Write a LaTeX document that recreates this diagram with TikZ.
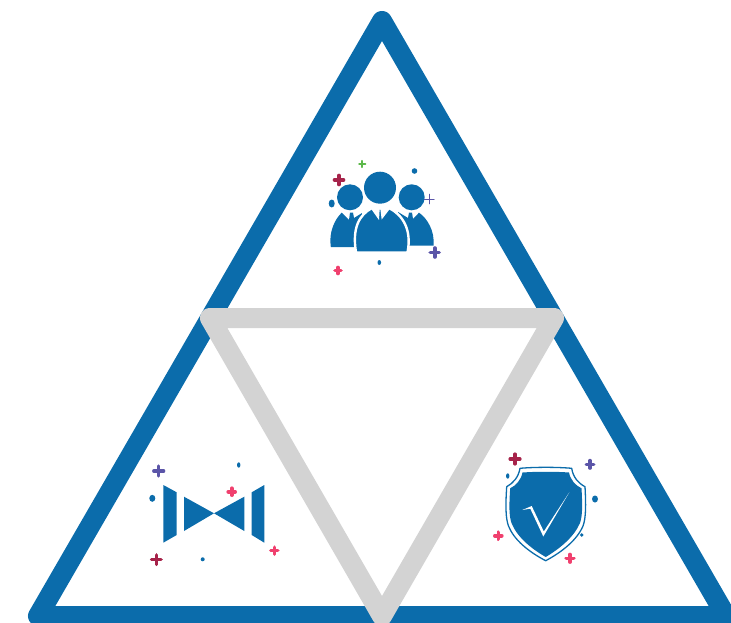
\documentclass[tikz,border=0pt]{standalone}
\definecolor{tblue}{HTML}{0B6CAB}
\definecolor{tgray}{HTML}{D3D3D3}
\definecolor{tcrim}{HTML}{A6234A}
\definecolor{tgreen}{HTML}{5CB84A}
\definecolor{tpurp}{HTML}{5B55A8}
\definecolor{tpink}{HTML}{F0406E}
\tikzset{
  outertri/.style={draw=tblue,line width=20pt,line join=round},
  innertri/.style={draw=tgray,line width=20pt,line join=round},
  cutbody/.style={fill=tblue,draw=white,line width=2.4pt},
  plusmark/.style={line cap=round,line width=#1},
  plusmark/.default=3pt
}
\newcommand{\plusat}[5]{\draw[plusmark=#5,draw=#1] (#2-#4,#3) -- (#2+#4,#3) (#2,#3-#4) -- (#2,#3+#4);}
\begin{document}
\begin{tikzpicture}[x=1pt,y=-1pt]
\useasboundingbox (0,0) rectangle (731,623);
\clip (0,0) rectangle (731,623);
\coordinate (apex) at (382,21);
\coordinate (bl) at (38,616);
\coordinate (br) at (726,616);
\coordinate (gl) at (210,318);
\coordinate (gr) at (554,318);
\coordinate (gb) at (382,616);
\draw[outertri] (apex) -- (br) -- (bl) -- cycle;
\draw[innertri] (gl) -- (gr) -- (gb) -- cycle;
% people icon
\fill[tblue] (350,197.3) circle (13);
\fill[tblue] (411.7,197.3) circle (13);
\fill[tblue] (380,187.7) circle (16);
\fill[tblue] (330.8,247) .. controls (328.5,232) and (335,219) .. (341.7,212.7) -- (349,220) -- (350,212.5) -- (353,212.5) -- (354,218) -- (362,213) -- (358,247) -- cycle;
\fill[tblue] (433.5,245.5) .. controls (435,231) and (427,218) .. (419,212.7) -- (413,219) -- (412,212.5) -- (409,212.5) -- (408,218) -- (398,212) -- (405,245.5) -- cycle;
\draw[cutbody] (356,252.5) .. controls (352,228) and (359,215) .. (372,208) -- (378,216.5) -- (378.5,208.5) -- (381.5,208.5) -- (382.5,216.5) -- (389,208) .. controls (403,215) and (412,230) .. (407.5,252.5) -- cycle;
% marks around people
\plusat{tcrim}{339}{180}{4.5}{3.6pt}
\plusat{tgreen}{362.3}{164}{3.2}{1.7pt}
\plusat{tpurp}{429.3}{199}{5}{0.5pt}
\plusat{tpurp}{434.7}{252.5}{4.5}{3.6pt}
\plusat{tpink}{338}{270.5}{3}{3.6pt}
\fill[tblue] (414.5,171) circle (2.8);
\fill[tblue] (331.7,203.5) ellipse (3 and 4);
\fill[tblue] (379.3,262.5) ellipse (1.8 and 2.5);
% bow tie icon
\fill[tblue] (163.3,485) -- (176.7,492.3) -- (176.7,535) -- (163.3,542.7) -- cycle;
\fill[tblue] (184,496.7) -- (214,513.3) -- (184,531) -- cycle;
\fill[tblue] (244.3,496.7) -- (214,513.3) -- (244.3,531) -- cycle;
\fill[tblue] (264.3,485) -- (251.7,492.3) -- (251.7,535) -- (264.3,542.7) -- cycle;
\plusat{tpurp}{158.7}{471}{5}{3.2pt}
\plusat{tpink}{231.7}{491.7}{3.5}{3.6pt}
\plusat{tcrim}{156.3}{559.7}{4.8}{3.4pt}
\plusat{tpink}{274.3}{550.7}{3.6}{3.4pt}
\fill[tblue] (238.7,465) ellipse (1.7 and 2.7);
\fill[tblue] (152.3,498.3) ellipse (3 and 3.5);
\fill[tblue] (202.7,559.3) circle (2);
% shield icon
\draw[tblue,line width=1.3pt,line join=round] (520,468.3) .. controls (535,467) and (557,467) .. (571.7,468.3) .. controls (573,477) and (578,483) .. (585,486.7) .. controls (586,505) and (586,518) .. (583,526) .. controls (577,540) and (562,552) .. (545.7,560.7) .. controls (529,552) and (514,540) .. (508.5,526) .. controls (505.5,518) and (505.5,505) .. (506.7,486.7) .. controls (513.5,483) and (518.5,477) .. cycle;
\fill[tblue] (522.5,472.5) .. controls (537,471.5) and (555,471.5) .. (569,472.5) .. controls (570.5,480) and (575.5,485.5) .. (581.5,488.3) .. controls (582.5,505) and (582.5,516) .. (580,523) .. controls (574,537) and (560,548.5) .. (545.7,557) .. controls (531,548.5) and (517,537) .. (511.5,523) .. controls (509,516) and (509,505) .. (510.2,488.3) .. controls (516,485.5) and (521,480) .. cycle;
\fill[white] (522.3,510) -- (531.7,506) -- (543.8,531.5) -- (569.3,492.3) -- (543.3,536.5) -- (530.3,508.7) -- cycle;
\plusat{tcrim}{515}{459}{4.8}{3.6pt}
\plusat{tpurp}{590}{464.3}{3.8}{3.4pt}
\plusat{tpink}{498.3}{535.7}{3.5}{3.6pt}
\plusat{tpink}{570}{558.3}{3.8}{3.6pt}
\fill[tblue] (507.7,476) ellipse (1.7 and 2.7);
\fill[tblue] (595,499) ellipse (3 and 3.5);
\fill[tblue] (581.7,535) circle (1.9);
\end{tikzpicture}
\end{document}
